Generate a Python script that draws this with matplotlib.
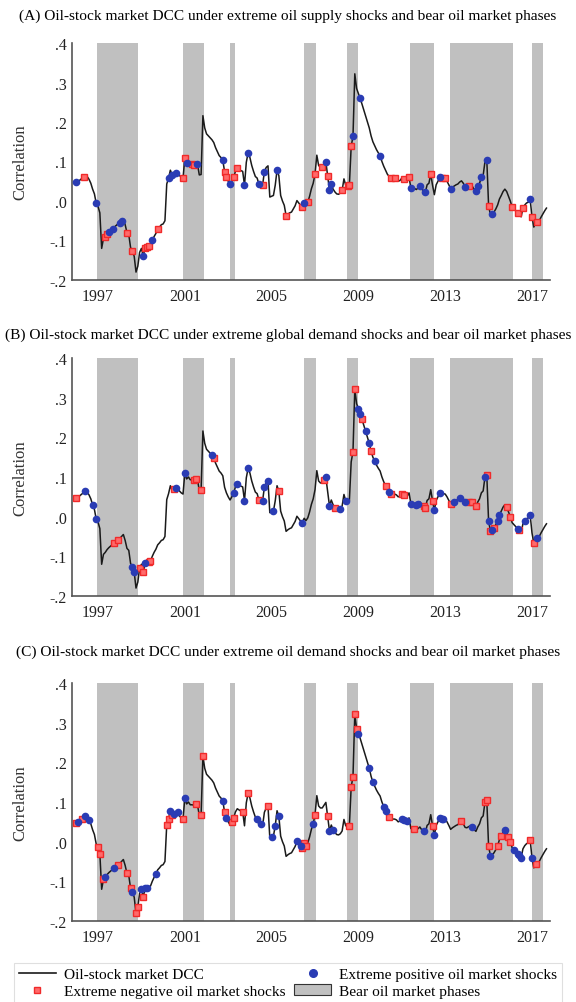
import matplotlib
matplotlib.use('Agg')
from matplotlib import pyplot as plt
from matplotlib.lines import Line2D
from matplotlib.patches import Patch
import numpy as np

plt.rcParams['font.family'] = ['Liberation Serif', 'DejaVu Serif']

# monthly oil-stock DCC, Jan 1996 .. Sep 2017
dcc = [
    .047, .05, .053, .057, .06, .064, .062, .055, .045, .03, .018, -.006,      # 1996
    -.014, -.03, -.12, -.095, -.09, -.083, -.078, -.074, -.07, -.066, -.062, -.058,  # 1997
    -.055, -.05, -.045, -.06, -.08, -.085, -.118, -.126, -.14, -.18, -.165, -.13,    # 1998
    -.12, -.14, -.118, -.116, -.114, -.112, -.1, -.09, -.082, -.071, -.066, -.06,    # 1999
    -.058, -.05, .043, .058, .078, .066, .07, .072, .074, .065, .06, .057,     # 2000
    .11, .095, .1, .093, .093, .092, .095, .093, .066, .067, .216, .185,       # 2001
    .17, .165, .16, .155, .148, .135, .125, .115, .11, .103, .074, .06,        # 2002
    .05, .042, .05, .06, .075, .083, .08, .077, .075, .04, .098, .122,         # 2003
    .11, .09, .075, .062, .058, .042, .045, .04, .074, .085, .089, .01,        # 2004
    .012, .014, .04, .078, .064, .014, .0, -.011, -.037, -.033, -.03, -.028,   # 2005
    -.02, -.012, .001, -.005, -.011, -.015, -.004, -.01, -.003, .012, .031, .045,  # 2006
    .068, .116, .09, .085, .085, .092, .099, .064, .027, .042, .03, .023,      # 2007
    .018, .017, .02, .027, .056, .04, .038, .04, .138, .164, .322, .285,       # 2008
    .272, .26, .245, .23, .215, .2, .185, .165, .15, .14, .13, .122,           # 2009
    .115, .1, .088, .078, .068, .062, .057, .057, .057, .055, .05, .052,       # 2010
    .058, .055, .05, .052, .06, .033, .035, .032, .029, .033, .037, .03,       # 2011
    .026, .022, .041, .045, .068, .04, .016, .041, .05, .06, .058, .058,       # 2012
    .057, .05, .041, .031, .035, .038, .041, .043, .048, .051, .045, .036,     # 2013
    .035, .038, .04, .037, .03, .026, .037, .045, .06, .065, .1, .105,         # 2014
    -.012, -.035, -.033, -.028, -.02, -.01, .005, .014, .024, .03, .024, .012,  # 2015
    .0, -.015, -.02, -.025, -.03, -.033, -.04, -.018, -.01, -.005, -.003, .004,  # 2016
    -.041, -.066, -.056, -.054, -.05, -.041, -.033, -.025, -.018,             # 2017
]

# bear oil market phases (decimal years)
bear_start = [1996.95, 2000.90, 2003.08, 2006.50, 2008.47, 2011.37, 2013.20, 2017.00]
bear_end = [1998.85, 2001.87, 2003.30, 2007.05, 2008.98, 2012.50, 2016.12, 2017.52]

# months (index into dcc) with extreme shocks, per panel
pos_a = [0, 11, 18, 20, 24, 25, 37, 42, 51, 53, 55, 61, 67, 81, 85, 93, 95, 101, 104, 111,
         126, 138, 140, 141, 153, 157, 168, 185, 190, 193, 201, 207, 215, 221, 222, 224,
         227, 230, 251]
neg_a = [4, 16, 17, 28, 31, 38, 39, 40, 45, 59, 60, 64, 65, 82, 83, 87, 89, 103, 116, 125,
         128, 132, 136, 139, 147, 150, 151, 152, 174, 176, 181, 184, 196, 202, 204, 217,
         228, 241, 244, 247, 252, 255]
pos_b = [5, 9, 11, 31, 32, 38, 55, 60, 75, 87, 89, 93, 95, 103, 104, 106, 109, 125, 138,
         140, 146, 149, 156, 157, 160, 162, 165, 173, 185, 188, 189, 198, 201, 209, 212,
         215, 226, 228, 230, 233, 234, 244, 248, 251, 255]
neg_b = [0, 21, 23, 35, 37, 40, 41, 54, 65, 66, 69, 76, 101, 112, 137, 143, 153, 154, 158,
         163, 171, 174, 180, 181, 192, 193, 197, 207, 217, 219, 221, 227, 229, 231, 238,
         240, 245, 253]
pos_c = [1, 5, 7, 16, 21, 31, 36, 38, 39, 44, 52, 54, 56, 60, 81, 83, 100, 102, 108, 110,
         112, 122, 124, 131, 140, 142, 156, 162, 164, 170, 171, 180, 181, 183, 192, 198,
         201, 202, 203, 219, 229, 237, 242, 244, 245, 246, 252]
neg_c = [0, 3, 12, 13, 15, 23, 28, 30, 33, 34, 37, 50, 51, 53, 59, 66, 69, 70, 82, 86, 87,
         92, 95, 106, 125, 126, 127, 132, 139, 151, 152, 153, 154, 155, 173, 187, 197, 213,
         226, 227, 228, 233, 235, 239, 240, 251, 254]

titles = [
    "(A) Oil-stock market DCC under extreme oil supply shocks and bear oil market phases",
    "(B) Oil-stock market DCC under extreme global demand shocks and bear oil market phases",
    "(C) Oil-stock market DCC under extreme oil demand shocks and bear oil market phases",
]
year_ticks = [1997, 2001, 2005, 2009, 2013, 2017]
y_ticks = [-.2, -.1, 0, .1, .2, .3, .4]
y_labels = ["-.2", "-.1", ".0", ".1", ".2", ".3", ".4"]

dates = 1996 + np.arange(len(dcc)) / 12.0
dcc = np.array(dcc)

BLUE = '#2a3cb4'
RED = '#f02a2a'
GREY = '#c0c0c0'

fig = plt.figure(figsize=(5.76, 10.03), dpi=100)
H = 1003.0
W = 576.0
panels = [(44, 281, 16, pos_a, neg_a), (359, 597, 335, pos_b, neg_b), (684, 922, 652, pos_c, neg_c)]

for k, (top, bot, ty, pos, neg) in enumerate(panels):
    ax = fig.add_axes([72 / W, 1 - bot / H, 478 / W, (bot - top) / H])
    for s, e in zip(bear_start, bear_end):
        ax.axvspan(s, e, color=GREY, lw=0, zorder=0)
    ax.plot(dates, dcc, color='#1a1a1a', lw=1.1, zorder=2)
    ax.plot(dates[neg], dcc[neg], ls='none', marker='s', ms=4.6, mfc='#ff6a6a',
            mec=RED, mew=1.0, zorder=3)
    ax.plot(dates[pos], dcc[pos], ls='none', marker='o', ms=5.5, mfc=BLUE, mec=BLUE,
            mew=0, zorder=4)
    ax.set_xlim(1995.8, 2017.83)
    ax.set_ylim(-0.2, 0.4)
    ax.set_xticks(year_ticks)
    ax.set_xticklabels([str(y) for y in year_ticks])
    ax.set_yticks(y_ticks)
    ax.set_yticklabels(y_labels)
    ax.tick_params(length=0, labelsize=11.5, colors='#222222')
    ax.tick_params(axis='x', pad=6)
    ax.tick_params(axis='y', pad=4)
    for sp in ['top', 'right']:
        ax.spines[sp].set_visible(False)
    for sp in ['left', 'bottom']:
        ax.spines[sp].set_color('#555555')
        ax.spines[sp].set_linewidth(1.2)
    ax.set_ylabel("Correlation", fontsize=12, color='#333333')
    ax.yaxis.set_label_coords(-0.092, 0.5)
    fig.text(0.5, 1 - ty / H, titles[k], ha='center', va='center', fontsize=11.1, color='black')

handles = [
    Line2D([0], [0], color='#1a1a1a', lw=1.2),
    Line2D([0], [0], ls='none', marker='s', ms=4.6, mfc='#ff6a6a', mec=RED, mew=1.0),
    Line2D([0], [0], ls='none', marker='o', ms=5.5, mfc=BLUE, mec=BLUE),
    Patch(facecolor=GREY, edgecolor='#333333', lw=0.8),
]
labels = ["Oil-stock market DCC", "Extreme negative oil market shocks",
          "Extreme positive oil market shocks", "Bear oil market phases"]
leg = fig.legend(handles, labels, ncol=2, loc='upper center', bbox_to_anchor=(0.5, 1 - 956 / H),
                 fontsize=11.1, frameon=True, fancybox=False, edgecolor='#d8d8d8',
                 handlelength=2.4, handletextpad=0.5, columnspacing=0.6, labelspacing=0.2,
                 borderpad=0.3)
leg.get_frame().set_linewidth(0.8)

plt.savefig("out.png", dpi=100)
plt.close()
